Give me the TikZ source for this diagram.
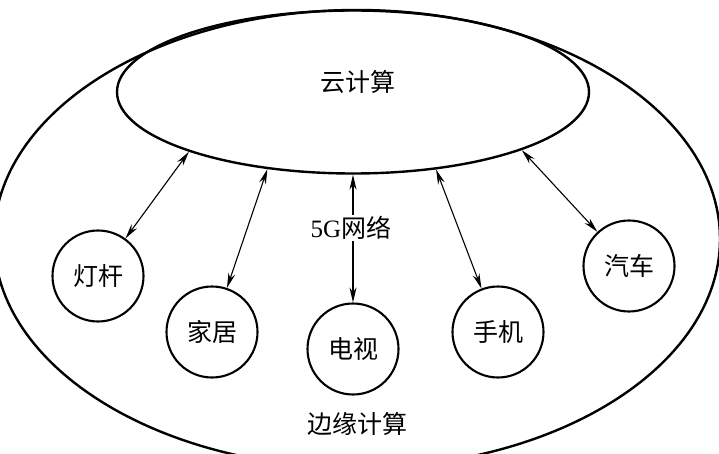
\documentclass[tikz,border=0pt]{standalone}
\usepackage{fontspec}
\setmainfont{Liberation Serif}
\newfontfamily\cjk{Noto Sans CJK SC}
\usetikzlibrary{shapes.geometric,arrows.meta}
\tikzset{
  bigring/.style={draw, line width=2.4pt, ellipse, inner sep=0pt},
  device/.style={draw, line width=2.1pt, circle, minimum size=91pt, inner sep=0pt, font=\fontsize{25}{25}\selectfont\cjk},
  lbl/.style={font=\fontsize{25}{25}\selectfont\cjk, inner sep=1pt},
  link/.style={line width=1.1pt, {Stealth[length=15pt,width=7pt]}-{Stealth[length=15pt,width=7pt]}},
  uplink/.style={line width=1.1pt, -{Stealth[length=15pt,width=7pt]}}
}
\begin{document}
\begin{tikzpicture}[x=1pt,y=-1pt]
\useasboundingbox (0,0) rectangle (719,454);
\clip (0,0) rectangle (719,454);
\node[bigring, minimum width=726pt, minimum height=458pt] (edge) at (357,239) {};
\node[bigring, minimum width=472pt, minimum height=163pt] (cloud) at (353,92) {};
\node[lbl] (cloudtxt) at (358,82) {云计算};
\node[lbl] (edgetxt) at (357,424) {边缘计算};
\node[device] (lamp) at (98,276) {灯杆};
\node[device] (home) at (212,332) {家居};
\node[device] (tv) at (353,349) {电视};
\node[device] (phone) at (498,332) {手机};
\node[device] (car) at (629,266) {汽车};
\node[lbl, font=\fontsize{25}{25}\selectfont] (net) at (351,228) {5G{\cjk 网络}};
\draw[link] (cloud.200) -- (lamp);
\draw[link] (cloud.222.5) -- (home);
\draw[link] (cloud.317) -- (phone);
\draw[link] (cloud.341.5) -- (car);
\draw[uplink] (net.north -| cloud.south) -- (cloud.south);
\draw[uplink] (net.south -| tv.north) -- (tv.north);
\end{tikzpicture}
\end{document}
